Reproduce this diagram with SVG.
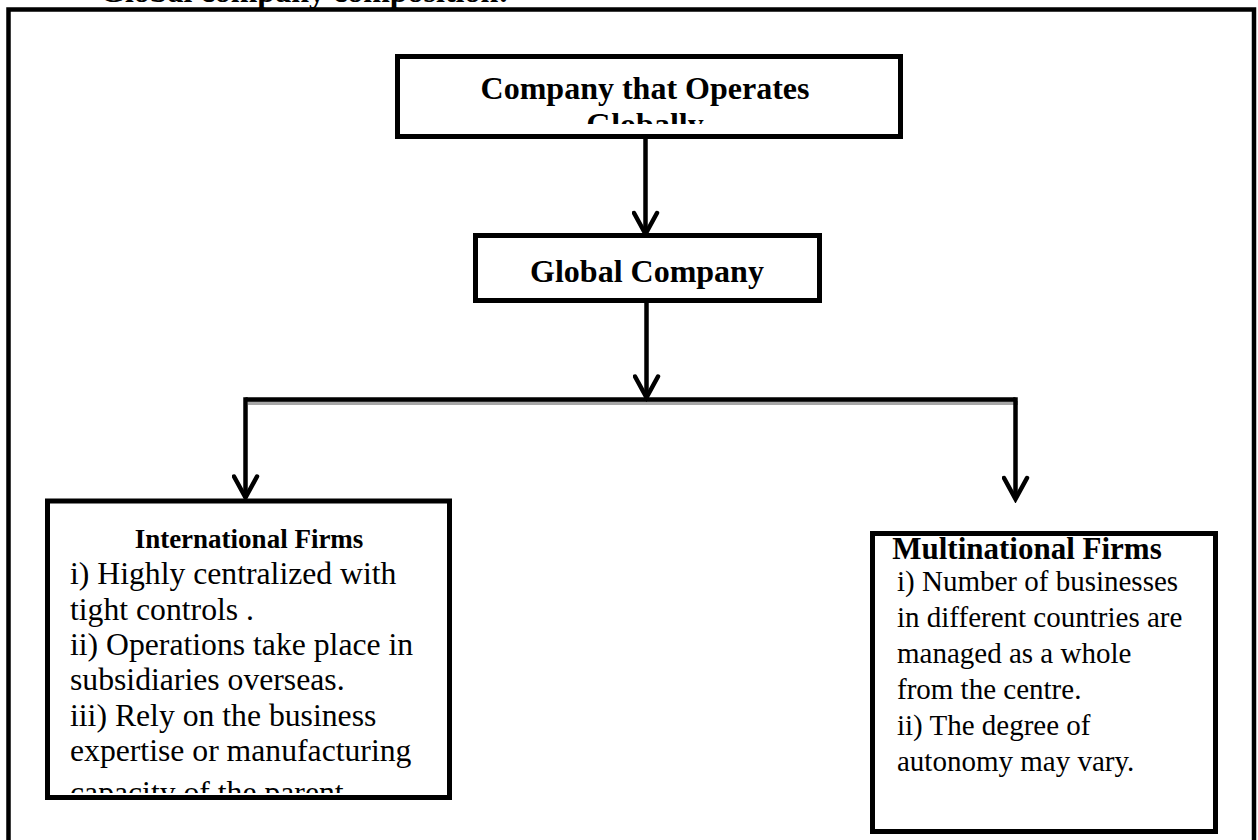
<svg xmlns="http://www.w3.org/2000/svg" width="1258" height="840" viewBox="0 0 1258 840">
  <style>
    .box { fill: #ffffff; stroke: #000000; stroke-width: 5; }
    .frame { fill: none; stroke: #000000; stroke-width: 4.5; }
    .head { font-family: "Liberation Serif", "Times New Roman", serif; font-weight: bold; fill: #000000; }
    .body { font-family: "Liberation Serif", "Times New Roman", serif; fill: #000000; }
    .wire { fill: none; stroke: #000000; stroke-width: 4.5; stroke-linejoin: miter; }
    .shade { fill: none; stroke: #a6a6a6; stroke-width: 4; }
  </style>
  <defs>
    <marker id="vee" markerUnits="userSpaceOnUse" viewBox="-26 -14 30 28" markerWidth="30" markerHeight="28" refX="0" refY="0" orient="auto">
      <path d="M-21,-11.5 L0,0 L-21,11.5" fill="none" stroke="#000000" stroke-width="4.5" stroke-linecap="round"/>
    </marker>
    <clipPath id="clipTop"><rect x="400" y="59" width="498" height="65"/></clipPath>
    <clipPath id="clipLeft"><rect x="50" y="503.5" width="397" height="289.5"/></clipPath>
    <clipPath id="clipRight"><rect x="875" y="536" width="338" height="293"/></clipPath>
  </defs>

  <!-- page caption, cut off by the top edge -->
  <text class="head" x="100" y="1.5" font-size="32">Global company composition:</text>

  <!-- surrounding frame -->
  <rect class="frame" x="8.5" y="9.5" width="1245.5" height="860"/>

  <!-- connectors -->
  <g id="connectors">
    <path class="shade" d="M248,403 L1018,403"/>
    <path class="wire" d="M645.5,139 L645.5,234" marker-end="url(#vee)"/>
    <path class="wire" d="M646.5,303 L646.5,397.5" marker-end="url(#vee)"/>
    <path class="wire" d="M245.5,399.5 L1015.5,399.5"/>
    <path class="wire" d="M245.5,397.25 L245.5,497.5" marker-end="url(#vee)"/>
    <path class="wire" d="M1015.5,397.25 L1015.5,499" marker-end="url(#vee)"/>
  </g>

  <!-- top node -->
  <g id="node-operates">
    <rect class="box" x="397.5" y="56.5" width="503" height="80"/>
    <g clip-path="url(#clipTop)">
      <text class="head" x="645" y="98.5" font-size="32" text-anchor="middle">Company that Operates</text>
      <text class="head" x="645" y="135" font-size="32" text-anchor="middle">Globally</text>
    </g>
  </g>

  <!-- middle node -->
  <g id="node-global">
    <rect class="box" x="475.5" y="235.5" width="344" height="65"/>
    <text class="head" x="647" y="282" font-size="32" text-anchor="middle">Global Company</text>
  </g>

  <!-- left node -->
  <g id="node-international">
    <rect class="box" x="47.5" y="501" width="402" height="296.5"/>
    <g clip-path="url(#clipLeft)">
      <text class="head" x="249" y="548" font-size="27" text-anchor="middle">International Firms</text>
      <text class="body" font-size="31.7">
        <tspan x="70" y="584">i) Highly centralized with</tspan>
        <tspan x="70" y="619.5">tight controls .</tspan>
        <tspan x="70" y="655">ii) Operations take place in</tspan>
        <tspan x="70" y="690">subsidiaries overseas.</tspan>
        <tspan x="70" y="725.5">iii) Rely on the business</tspan>
        <tspan x="70" y="761">expertise or manufacturing</tspan>
        <tspan x="70" y="803">capacity of the parent</tspan>
      </text>
    </g>
  </g>

  <!-- right node -->
  <g id="node-multinational">
    <rect class="box" x="872.5" y="533.5" width="343" height="298"/>
    <g clip-path="url(#clipRight)">
      <text class="head" x="1027" y="559" font-size="31" text-anchor="middle">Multinational Firms</text>
      <text class="body" font-size="29">
        <tspan x="897" y="591">i) Number of businesses</tspan>
        <tspan x="897" y="627">in different countries are</tspan>
        <tspan x="897" y="663">managed as a whole</tspan>
        <tspan x="897" y="699">from the centre.</tspan>
        <tspan x="897" y="735">ii) The degree of</tspan>
        <tspan x="897" y="771">autonomy may vary.</tspan>
      </text>
    </g>
  </g>
</svg>
